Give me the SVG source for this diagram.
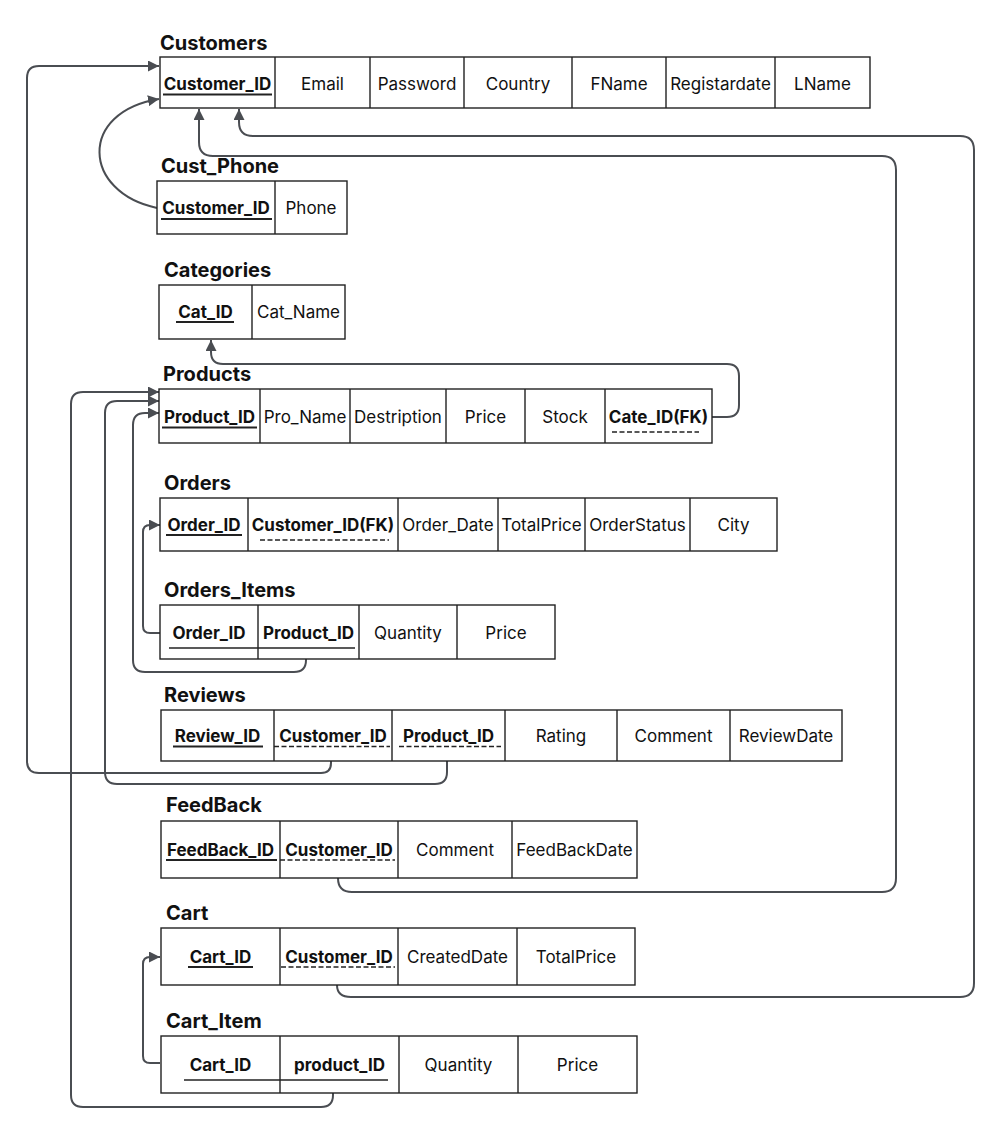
<svg xmlns="http://www.w3.org/2000/svg" width="1000" height="1134" viewBox="0 0 1000 1134">
<style>
text{font-family:Inter,"Liberation Sans",Arial,sans-serif;fill:#111;}
.t{font-size:20px;font-weight:700;}
.f{font-size:17px;text-anchor:middle;}
.b{font-weight:700;}
.box{fill:#fff;stroke:#222;stroke-width:1.4;}
.dv{stroke:#222;stroke-width:1.4;}
.pk{stroke:#222;stroke-width:2;}
.fk{stroke:#222;stroke-width:1.5;stroke-dasharray:5 2.5;}
.c{fill:none;stroke:#4a4d52;stroke-width:2;marker-end:url(#arr);}
</style>
<defs>
<marker id="arr" viewBox="0 0 10 10" refX="10" refY="5" markerWidth="11" markerHeight="11" markerUnits="userSpaceOnUse" orient="auto">
<path d="M0,0 L10,5 L0,10 z" fill="#4a4d52"/>
</marker>
</defs>
<rect width="1000" height="1134" fill="#fff"/>

<g id="connectors">
<path class="c" d="M331 761 V763 Q331 773 321 773 H39 Q27 773 27 761 V78 Q27 66 39 66 H159"/>
<path class="c" d="M157 208 C82 192 78 112 159 99"/>
<path class="c" d="M338 878 Q338 892 352 892 H882 Q896 892 896 878 V170 Q896 156 882 156 H213 Q199 156 199 142 V109"/>
<path class="c" d="M337 985 Q337 997 351 997 H960 Q974 997 974 983 V150 Q974 136 960 136 H253 Q239 136 239 122 V109"/>
<path class="c" d="M712 417 H727 Q739 417 739 405 V376 Q739 364 727 364 H223 Q211 364 211 352 V340"/>
<path class="c" d="M333 1093 V1095 Q333 1107 321 1107 H83 Q71 1107 71 1095 V404 Q71 392 83 392 H159"/>
<path class="c" d="M447 761 V772 Q447 784 435 784 H117 Q105 784 105 772 V413 Q105 401 117 401 H159"/>
<path class="c" d="M306 659 V660 Q306 672 294 672 H145 Q133 672 133 660 V425 Q133 413 145 413 H159"/>
<path class="c" d="M160 633 H150 Q143 633 143 626 V532 Q143 525 150 525 H160"/>
<path class="c" d="M160 1063 H150 Q143 1063 143 1056 V964 Q143 957 150 957 H160"/>
</g>

<g id="customers">
<text class="t" x="160" y="50">Customers</text>
<rect class="box" x="160" y="57" width="710" height="51"/>
<path class="dv" d="M275 57V108M370 57V108M464 57V108M572 57V108M666 57V108M775 57V108"/>
<text class="f b" x="217.5" y="89.5">Customer_ID</text>
<line class="pk" x1="163" y1="94.5" x2="272" y2="94.5"/>
<text class="f" x="322.5" y="89.5">Email</text>
<text class="f" x="417" y="89.5">Password</text>
<text class="f" x="518" y="89.5">Country</text>
<text class="f" x="619" y="89.5">FName</text>
<text class="f" x="720.5" y="89.5">Registardate</text>
<text class="f" x="822.5" y="89.5">LName</text>
</g>

<g id="cust_phone">
<text class="t" x="161" y="173">Cust_Phone</text>
<rect class="box" x="157" y="181" width="190" height="53"/>
<path class="dv" d="M275 181V234"/>
<text class="f b" x="216" y="214">Customer_ID</text>
<line class="pk" x1="161" y1="219" x2="272" y2="219"/>
<text class="f" x="311" y="214">Phone</text>
</g>

<g id="categories">
<text class="t" x="164" y="277">Categories</text>
<rect class="box" x="159" y="285" width="186" height="54"/>
<path class="dv" d="M252 285V339"/>
<text class="f b" x="205.5" y="318">Cat_ID</text>
<line class="pk" x1="176" y1="322" x2="234" y2="322"/>
<text class="f" x="298.5" y="318">Cat_Name</text>
</g>

<g id="products">
<text class="t" x="163" y="381">Products</text>
<rect class="box" x="159" y="389" width="553" height="54"/>
<path class="dv" d="M260 389V443M350 389V443M446 389V443M525 389V443M605 389V443"/>
<text class="f b" x="209.5" y="423">Product_ID</text>
<line class="pk" x1="162" y1="427.5" x2="257" y2="427.5"/>
<text class="f" x="305" y="423">Pro_Name</text>
<text class="f" x="398" y="423">Destription</text>
<text class="f" x="485.5" y="423">Price</text>
<text class="f" x="565" y="423">Stock</text>
<text class="f b" x="658.5" y="423">Cate_ID(FK)</text>
<line class="fk" x1="612" y1="432" x2="699" y2="432"/>
</g>

<g id="orders">
<text class="t" x="164" y="490">Orders</text>
<rect class="box" x="160" y="498" width="617" height="53"/>
<path class="dv" d="M248 498V551M398 498V551M498 498V551M585 498V551M690 498V551"/>
<text class="f b" x="204" y="531">Order_ID</text>
<line class="pk" x1="166" y1="535" x2="242" y2="535"/>
<text class="f b" x="323" y="531">Customer_ID(FK)</text>
<line class="fk" x1="260" y1="540" x2="389" y2="540"/>
<text class="f" x="448" y="531">Order_Date</text>
<text class="f" x="541.5" y="531">TotalPrice</text>
<text class="f" x="637.5" y="531">OrderStatus</text>
<text class="f" x="733.5" y="531">City</text>
</g>

<g id="orders_items">
<text class="t" x="164" y="597">Orders_Items</text>
<rect class="box" x="160" y="605" width="395" height="54"/>
<path class="dv" d="M258 605V659M359 605V659M457 605V659"/>
<text class="f b" x="209" y="639">Order_ID</text>
<text class="f b" x="308.5" y="639">Product_ID</text>
<line class="pk" x1="169" y1="648" x2="355" y2="648" style="stroke-width:1.5"/>
<text class="f" x="408" y="639">Quantity</text>
<text class="f" x="506" y="639">Price</text>
</g>

<g id="reviews">
<text class="t" x="164" y="702">Reviews</text>
<rect class="box" x="161" y="710" width="681" height="51"/>
<path class="dv" d="M274 710V761M392 710V761M505 710V761M617 710V761M730 710V761"/>
<text class="f b" x="217.5" y="742">Review_ID</text>
<line class="pk" x1="173" y1="746.5" x2="263" y2="746.5"/>
<text class="f b" x="333" y="742">Customer_ID</text>
<line class="fk" x1="274" y1="746.5" x2="390" y2="746.5"/>
<text class="f b" x="448.5" y="742">Product_ID</text>
<line class="fk" x1="399" y1="746.5" x2="501" y2="746.5"/>
<text class="f" x="561" y="742">Rating</text>
<text class="f" x="673.5" y="742">Comment</text>
<text class="f" x="786" y="742">ReviewDate</text>
</g>

<g id="feedback">
<text class="t" x="166" y="812">FeedBack</text>
<rect class="box" x="161" y="821" width="476" height="57"/>
<path class="dv" d="M280 821V878M398 821V878M512 821V878"/>
<text class="f b" x="220.5" y="856">FeedBack_ID</text>
<line class="pk" x1="166" y1="860" x2="277" y2="860"/>
<text class="f b" x="339" y="856">Customer_ID</text>
<line class="fk" x1="280" y1="860" x2="395" y2="860"/>
<text class="f" x="455" y="856">Comment</text>
<text class="f" x="574.5" y="856">FeedBackDate</text>
</g>

<g id="cart">
<text class="t" x="166" y="920">Cart</text>
<rect class="box" x="161" y="928" width="474" height="57"/>
<path class="dv" d="M280 928V985M398 928V985M517 928V985"/>
<text class="f b" x="220.5" y="963">Cart_ID</text>
<line class="pk" x1="188" y1="967" x2="253" y2="967"/>
<text class="f b" x="339" y="963">Customer_ID</text>
<line class="fk" x1="281" y1="967" x2="395" y2="967"/>
<text class="f" x="457.5" y="963">CreatedDate</text>
<text class="f" x="576" y="963">TotalPrice</text>
</g>

<g id="cart_item">
<text class="t" x="166" y="1028">Cart_Item</text>
<rect class="box" x="161" y="1036" width="476" height="57"/>
<path class="dv" d="M280 1036V1093M399 1036V1093M518 1036V1093"/>
<text class="f b" x="220.5" y="1071">Cart_ID</text>
<text class="f b" x="339.5" y="1071">product_ID</text>
<line class="pk" x1="184" y1="1080" x2="388" y2="1080" style="stroke-width:1.5"/>
<text class="f" x="458.5" y="1071">Quantity</text>
<text class="f" x="577.5" y="1071">Price</text>
</g>
</svg>
